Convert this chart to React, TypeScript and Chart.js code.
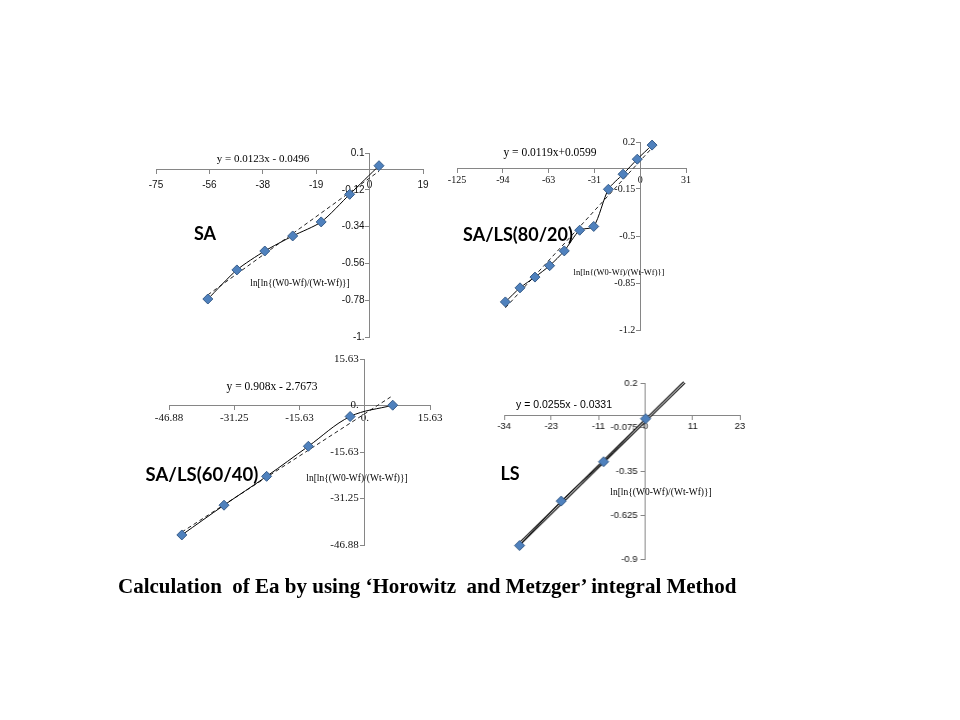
import React, { useEffect, useRef } from "react";
import { Chart, registerables } from "chart.js";

Chart.register(...registerables);

// ---------- Panel 1: SA ----------
const saX = [-56.8, -46.6, -36.8, -27.0, -17.0, -7.0, 3.3];
const saY = [-0.773, -0.599, -0.486, -0.396, -0.312, -0.147, 0.024];
const saXTicks = [-75, -56.25, -37.5, -18.75, 0, 18.75];
const saXLabels = ["-75", "-56", "-38", "-19", "0", "19"];
const saYTicks = [0.1, -0.12, -0.34, -0.56, -0.78, -1];
const saYLabels = ["0.1", "-0.12", "-0.34", "-0.56", "-0.78", "-1."];
const saSlope = 0.0123;
const saIntercept = -0.0496;
const saTrendX = [-56.8, 3.3];

// ---------- Panel 2: SA/LS(80/20) ----------
const s82X = [-92.0, -82.0, -71.8, -61.8, -51.8, -41.3, -31.7, -21.7, -11.7, -2.0, 8.1];
const s82Y = [-0.991, -0.886, -0.806, -0.721, -0.611, -0.457, -0.429, -0.152, -0.04, 0.072, 0.177];
const s82XTicks = [-125, -93.75, -62.5, -31.25, 0, 31.25];
const s82XLabels = ["-125", "-94", "-63", "-31", "0", "31"];
const s82YTicks = [0.2, -0.15, -0.5, -0.85, -1.2];
const s82YLabels = ["0.2", "-0.15", "-0.5", "-0.85", "-1.2"];
const s82Slope = 0.0119;
const s82Intercept = 0.0599;
const s82TrendX = [-92.0, 8.1];

// ---------- Panel 3: SA/LS(60/40) ----------
const s64X = [-43.8, -33.7, -23.5, -13.5, -3.5, 6.7];
const s64Y = [-43.5, -33.5, -23.8, -13.7, -3.7, 0.1];
const s64XTicks = [-46.875, -31.25, -15.625, 0, 15.625];
const s64XLabels = ["-46.88", "-31.25", "-15.63", "0.", "15.63"];
const s64YTicks = [15.625, 0, -15.625, -31.25, -46.875];
const s64YLabels = ["15.63", "0.", "-15.63", "-31.25", "-46.88"];
const s64Slope = 0.908;
const s64Intercept = -2.7673;
const s64TrendX = [-43.8, 6.2];

// ---------- Panel 4: LS ----------
const lsX = [-30.3, -20.3, -10.1, 0];
const lsY = [-0.816, -0.538, -0.292, -0.023];
const lsXTicks = [-34, -22.667, -11.333, 0, 11.333, 22.667];
const lsXLabels = ["-34", "-23", "-11", "0", "11", "23"];
const lsYTicks = [0.2, -0.075, -0.35, -0.625, -0.9];
const lsYLabels = ["0.2", "-0.075", "-0.35", "-0.625", "-0.9"];
const lsSlope = 0.0255;
const lsIntercept = -0.0331;
const lsTrendX = [-30.3, 9.3];

const AXIS_TITLE = "ln[ln{(W0-Wf)/(Wt-Wf)}]";
const TITLE = "Calculation  of Ea by using \u2018Horowitz  and Metzger\u2019 integral Method";

type PanelCfg = {
  xs: number[];
  ys: number[];
  xTicks: number[];
  xLabels: string[];
  yTicks: number[];
  yLabels: string[];
  slope: number;
  intercept: number;
  trendX: number[];
  area: { left: number; right: number; top: number; bottom: number };
  tickFont: string;
  tickSize: number;
  xPad: number;
  yGap: number;
  tension: number;
  doubleTrend?: boolean;
};

const PAD = 40;

// Chart.js puts y labels of an axis positioned at {x: value} flush against the axis;
// shift them left by a gap so they sit like the reference.
const yLabelGap = {
  id: "yLabelGap",
  beforeDraw(chart: any, _args: any, opts: any) {
    const s = chart.scales.y;
    if (!s) return;
    const items = s.getLabelItems(chart.chartArea);
    if (items.__shifted) return;
    items.__shifted = true;
    const gap = (opts && opts.gap) || 0;
    items.forEach((it: any) => {
      const t = it.options.translation;
      it.options.translation = [t[0] - gap, t[1]];
    });
  },
};

function Panel({ cfg }: { cfg: PanelCfg }) {
  const ref = useRef<HTMLCanvasElement>(null);
  const { left, right, top, bottom } = cfg.area;
  const w = right - left + 2 * PAD;
  const h = bottom - top + 2 * PAD;

  useEffect(() => {
    const xMin = Math.min(...cfg.xTicks);
    const xMax = Math.max(...cfg.xTicks);
    const yMin = Math.min(...cfg.yTicks);
    const yMax = Math.max(...cfg.yTicks);
    const trend = cfg.trendX.map((x) => ({ x, y: cfg.slope * x + cfg.intercept }));
    const datasets: any[] = [
      {
        data: cfg.xs.map((x, i) => ({ x, y: cfg.ys[i] })),
        showLine: true,
        borderColor: "#000000",
        borderWidth: 1,
        tension: cfg.tension,
        pointStyle: "rectRot",
        pointRadius: 5,
        pointBackgroundColor: "#4F81BD",
        pointBorderColor: "#385D8A",
        pointBorderWidth: 1,
        clip: false,
      },
    ];
    if (cfg.doubleTrend) {
      datasets.push({
        data: trend,
        showLine: true,
        borderColor: "#ffffff",
        borderWidth: 1,
        pointRadius: 0,
        clip: false,
      });
      datasets.push({
        data: trend,
        showLine: true,
        borderColor: "#1a1a1a",
        borderWidth: 3,
        pointRadius: 0,
        clip: false,
      });
    } else {
      datasets.push({
        data: trend,
        showLine: true,
        borderColor: "#222222",
        borderWidth: 1,
        borderDash: [4, 3],
        pointRadius: 0,
        clip: false,
      });
    }
    const font = { family: cfg.tickFont, size: cfg.tickSize };
    const chart = new Chart(ref.current as HTMLCanvasElement, {
      type: "scatter",
      data: { datasets },
      plugins: [yLabelGap],
      options: {
        responsive: false,
        animation: false,
        layout: { padding: PAD },
        plugins: {
          legend: { display: false },
          tooltip: { enabled: false },
          yLabelGap: { gap: cfg.yGap },
        } as any,
        scales: {
          x: {
            type: "linear",
            position: { y: 0 } as any,
            min: xMin,
            max: xMax,
            afterBuildTicks: (s: any) => {
              s.ticks = cfg.xTicks.map((v) => ({ value: v }));
            },
            afterFit: (s: any) => {
              s.height = 0;
            },
            ticks: {
              autoSkip: false,
              maxRotation: 0,
              minRotation: 0,
              padding: cfg.xPad,
              color: "#111111",
              font,
              callback: (_v: any, i: number) => cfg.xLabels[i],
            },
            grid: { drawOnChartArea: false, drawTicks: true, tickLength: 4, color: "#868686" },
            border: { color: "#868686", width: 1 },
          },
          y: {
            type: "linear",
            position: { x: 0 } as any,
            min: yMin,
            max: yMax,
            afterBuildTicks: (s: any) => {
              s.ticks = cfg.yTicks.map((v) => ({ value: v }));
            },
            afterFit: (s: any) => {
              s.width = 0;
            },
            ticks: {
              autoSkip: false,
              color: "#111111",
              font,
              callback: (_v: any, i: number) => cfg.yLabels[i],
            },
            grid: { drawOnChartArea: false, drawTicks: true, tickLength: 4, color: "#868686" },
            border: { color: "#868686", width: 1 },
          },
        },
      },
    });
    return () => chart.destroy();
  }, []);

  return (
    <canvas
      ref={ref}
      width={w}
      height={h}
      style={{ position: "absolute", left: left - PAD, top: top - PAD, width: w, height: h }}
    />
  );
}

const panels: PanelCfg[] = [
  {
    xs: saX, ys: saY, xTicks: saXTicks, xLabels: saXLabels, yTicks: saYTicks, yLabels: saYLabels,
    slope: saSlope, intercept: saIntercept, trendX: saTrendX,
    area: { left: 156, right: 423, top: 153, bottom: 337 },
    tickFont: "'Liberation Sans', Arial, sans-serif", tickSize: 10, xPad: 6, yGap: 5, tension: 0.25,
  },
  {
    xs: s82X, ys: s82Y, xTicks: s82XTicks, xLabels: s82XLabels, yTicks: s82YTicks, yLabels: s82YLabels,
    slope: s82Slope, intercept: s82Intercept, trendX: s82TrendX,
    area: { left: 457, right: 686, top: 142, bottom: 330 },
    tickFont: "'Liberation Serif', 'Times New Roman', serif", tickSize: 10, xPad: 2, yGap: 5, tension: 0.25,
  },
  {
    xs: s64X, ys: s64Y, xTicks: s64XTicks, xLabels: s64XLabels, yTicks: s64YTicks, yLabels: s64YLabels,
    slope: s64Slope, intercept: s64Intercept, trendX: s64TrendX,
    area: { left: 169, right: 430, top: 359, bottom: 545 },
    tickFont: "'Liberation Serif', 'Times New Roman', serif", tickSize: 11, xPad: 2, yGap: 6, tension: 0.35,
  },
  {
    xs: lsX, ys: lsY, xTicks: lsXTicks, xLabels: lsXLabels, yTicks: lsYTicks, yLabels: lsYLabels,
    slope: lsSlope, intercept: lsIntercept, trendX: lsTrendX,
    area: { left: 504, right: 739.5, top: 382.5, bottom: 559 },
    tickFont: "'Liberation Sans', Arial, sans-serif", tickSize: 9.5, xPad: 2, yGap: 8, tension: 0.2,
    doubleTrend: true,
  },
];

type Label = { text: string; x: number; y: number; font: string; size: number; bold?: boolean };

const SERIF = "'Liberation Serif', 'Times New Roman', serif";
const SANS = "'Liberation Sans', Arial, sans-serif";
const PANEL_FONT = "Lato, 'Open Sans', sans-serif";

const labels: Label[] = [
  { text: "y = 0.0123x - 0.0496", x: 263, y: 158, font: SERIF, size: 11 },
  { text: "y = 0.0119x+0.0599", x: 550, y: 153, font: SERIF, size: 11.5 },
  { text: "y = 0.908x - 2.7673", x: 272, y: 387, font: SERIF, size: 11.5 },
  { text: "y = 0.0255x - 0.0331", x: 564, y: 404, font: SANS, size: 10.5 },
  { text: AXIS_TITLE, x: 300, y: 284, font: SERIF, size: 9.3 },
  { text: AXIS_TITLE, x: 619, y: 272, font: SERIF, size: 8.5 },
  { text: AXIS_TITLE, x: 357, y: 479, font: SERIF, size: 9.5 },
  { text: AXIS_TITLE, x: 661, y: 493, font: SERIF, size: 9.5 },
  { text: "SA", x: 205, y: 233, font: PANEL_FONT, size: 18, bold: true },
  { text: "SA/LS(80/20)", x: 518, y: 234, font: PANEL_FONT, size: 18, bold: true },
  { text: "SA/LS(60/40)", x: 202, y: 474, font: PANEL_FONT, size: 18.5, bold: true },
  { text: "LS", x: 510, y: 473, font: PANEL_FONT, size: 18, bold: true },
];

export default function App() {
  return (
    <div
      style={{
        position: "fixed",
        left: 0,
        top: 0,
        width: 960,
        height: 720,
        background: "#ffffff",
        overflow: "hidden",
      }}
    >
      {panels.map((p, i) => (
        <Panel key={i} cfg={p} />
      ))}
      {labels.map((l, i) => (
        <div
          key={"l" + i}
          style={{
            position: "absolute",
            left: l.x,
            top: l.y,
            transform: "translate(-50%, -50%)",
            fontFamily: l.font,
            fontSize: l.size,
            fontWeight: l.bold ? 700 : 400,
            whiteSpace: "pre",
            lineHeight: 1,
            color: "#000",
          }}
        >
          {l.text}
        </div>
      ))}
      <div
        style={{
          position: "absolute",
          left: 118,
          top: 586,
          transform: "translateY(-50%)",
          fontFamily: SERIF,
          fontSize: 21,
          fontWeight: 700,
          whiteSpace: "pre",
          lineHeight: 1,
          color: "#000",
        }}
      >
        {TITLE}
      </div>
    </div>
  );
}
